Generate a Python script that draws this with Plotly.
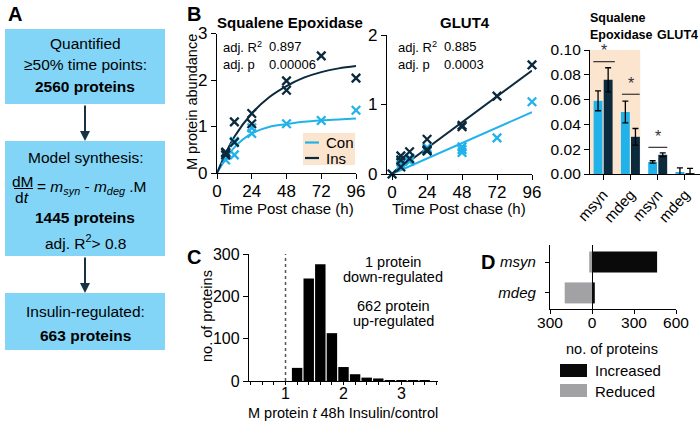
import plotly.graph_objects as go

W, H = 700, 422
FONT = "Liberation Sans, Arial, Helvetica, sans-serif"
LB = "#22B2EA"      # Con
DK = "#0C2A3E"      # Ins
BOXC = "#82D5F7"
BEIGE = "#FBE5CF"
GRAY = "#A2A2A5"


def px(x):
    return x / W


def py(y):
    return 1 - y / H


# ---------------- Panel B: Squalene Epoxidase ----------------
se_con_t = [6, 6, 12, 12, 12, 24, 24, 48, 72, 96]
se_con_v = [0.28, 0.38, 0.68, 0.65, 0.39, 0.97, 0.85, 1.06, 1.13, 1.35]
se_ins_t = [6, 6, 6, 12, 12, 24, 24, 48, 48, 72, 96]
se_ins_v = [0.43, 0.39, 0.45, 1.10, 0.66, 1.28, 1.06, 1.98, 1.78, 2.52, 2.04]
se_fit_t = [0, 6, 12, 24, 36, 48, 60, 72, 84, 96]
se_fit_con = [0, 0.30, 0.55, 0.85, 0.99, 1.05, 1.10, 1.13, 1.15, 1.17]
se_fit_ins = [0, 0.42, 0.78, 1.28, 1.63, 1.87, 2.05, 2.17, 2.25, 2.30]

# ---------------- Panel B: GLUT4 ----------------
g_con_t = [0, 6, 6, 6, 12, 12, 12, 24, 24, 24, 48, 48, 48, 72, 96]
g_con_v = [0, 0.20, 0.13, 0.17, 0.23, 0.20, 0.18, 0.38, 0.35, 0.33, 0.39, 0.35, 0.31, 0.52, 1.04]
g_ins_t = [0, 6, 6, 6, 12, 12, 24, 24, 24, 48, 48, 72, 96]
g_ins_v = [0, 0.26, 0.20, 0.10, 0.32, 0.22, 0.50, 0.35, 0.33, 0.70, 0.68, 1.12, 1.57]
g_fit_t = [0, 96]
g_fit_con = [0, 0.89]
g_fit_ins = [0, 1.49]

time_ticks = [0, 24, 48, 72, 96]

# ---------------- Panel B: rate constants ----------------
rate_labels = ["msyn", "mdeg", "msyn", "mdeg"]
rate_con = [0.059, 0.050, 0.0097, 0.0015]
rate_con_err = [0.008, 0.0088, 0.001, 0.0035]
rate_ins = [0.076, 0.030, 0.0155, 0.0006]
rate_ins_err = [0.0097, 0.0067, 0.0015, 0.004]
rate_ticks = [0, 0.02, 0.04, 0.06, 0.08, 0.10]

# ---------------- Panel C: histogram ----------------
hist_centers = [1.2, 1.4, 1.6, 1.8, 2.0, 2.2, 2.4, 2.6, 2.8, 3.0, 3.2, 3.4]
hist_counts = [31, 242, 276, 113, 33, 16, 8, 6, 1, 1, 1, 2]
hist_minor_ticks = [0.4, 0.6, 0.8, 1.0, 1.2, 1.4, 1.6, 1.8, 2.0, 2.2, 2.4, 2.6,
                    2.8, 3.0, 3.2, 3.4, 3.6]
hist_label_ticks = [1, 2, 3]

# ---------------- Panel D ----------------
d_cats = ["<i>mdeg</i>", "<i>msyn</i>"]
d_increased = [20, 465]
d_reduced = [-195, -20]
d_ticks = [-300, 0, 300, 600]
d_ticktext = ["300", "0", "300", "600"]

fig = go.Figure()

mk = dict(symbol="x-thin", size=8.5)

# Squalene
fig.add_trace(go.Scatter(x=se_fit_t, y=se_fit_con, mode="lines",
                         line=dict(color=LB, width=2, shape="spline"),
                         xaxis="x", yaxis="y", showlegend=False))
fig.add_trace(go.Scatter(x=se_fit_t, y=se_fit_ins, mode="lines",
                         line=dict(color=DK, width=2, shape="spline"),
                         xaxis="x", yaxis="y", showlegend=False))
fig.add_trace(go.Scatter(x=se_con_t, y=se_con_v, mode="markers",
                         marker=dict(**mk, line=dict(color=LB, width=2.3)),
                         xaxis="x", yaxis="y", showlegend=False, cliponaxis=False))
fig.add_trace(go.Scatter(x=se_ins_t, y=se_ins_v, mode="markers",
                         marker=dict(**mk, line=dict(color=DK, width=2.3)),
                         xaxis="x", yaxis="y", showlegend=False, cliponaxis=False))

# GLUT4
fig.add_trace(go.Scatter(x=g_fit_t, y=g_fit_con, mode="lines",
                         line=dict(color=LB, width=2),
                         xaxis="x2", yaxis="y2", showlegend=False))
fig.add_trace(go.Scatter(x=g_fit_t, y=g_fit_ins, mode="lines",
                         line=dict(color=DK, width=2),
                         xaxis="x2", yaxis="y2", showlegend=False))
fig.add_trace(go.Scatter(x=g_con_t, y=g_con_v, mode="markers",
                         marker=dict(**mk, line=dict(color=LB, width=2.3)),
                         xaxis="x2", yaxis="y2", showlegend=False, cliponaxis=False))
fig.add_trace(go.Scatter(x=g_ins_t, y=g_ins_v, mode="markers",
                         marker=dict(**mk, line=dict(color=DK, width=2.3)),
                         xaxis="x2", yaxis="y2", showlegend=False, cliponaxis=False))

# Rates bar chart
xpos = list(range(len(rate_labels)))
fig.add_trace(go.Bar(x=xpos, y=rate_con, marker=dict(color=LB, line=dict(width=0)),
                     error_y=dict(type="data", array=rate_con_err, color="black",
                                  thickness=1.3, width=3),
                     xaxis="x3", yaxis="y3", showlegend=False))
fig.add_trace(go.Bar(x=xpos, y=rate_ins, marker=dict(color=DK, line=dict(width=0)),
                     error_y=dict(type="data", array=rate_ins_err, color="black",
                                  thickness=1.3, width=3),
                     xaxis="x3", yaxis="y3", showlegend=False))

# Histogram C
fig.add_trace(go.Bar(x=hist_centers, y=hist_counts, width=0.18,
                     marker=dict(color="black", line=dict(width=0)),
                     xaxis="x4", yaxis="y4", showlegend=False))

# Panel D
fig.add_trace(go.Bar(y=[0, 1], x=d_reduced, orientation="h", width=0.68,
                     offsetgroup="d", marker=dict(color=GRAY, line=dict(width=0)),
                     xaxis="x5", yaxis="y5", showlegend=False))
fig.add_trace(go.Bar(y=[0, 1], x=d_increased, orientation="h", width=0.68,
                     offsetgroup="d", marker=dict(color="#0A0A0A", line=dict(width=0)),
                     xaxis="x5", yaxis="y5", showlegend=False))


def axis(domain, rng, **kw):
    d = dict(domain=domain, range=rng, showline=True, linecolor="black",
             linewidth=1.3, ticks="outside", ticklen=5, tickwidth=1.3,
             tickcolor="black", showgrid=False, zeroline=False, automargin=False,
             tickfont=dict(size=17, color="black"), fixedrange=True)
    d.update(kw)
    return d


layout_axes = dict(
    xaxis=axis([px(217), px(356)], [0, 96], tickvals=time_ticks, anchor="y",
               ticklabelstandoff=-3),
    yaxis=axis([py(173), py(33.5)], [0, 3], tickvals=[0, 1, 2, 3], anchor="x"),
    xaxis2=axis([px(387), px(532)], [-3.5, 96], tickvals=time_ticks, anchor="y2",
                ticklabelstandoff=-3),
    yaxis2=axis([py(174), py(35)], [0, 2], tickvals=[0, 1, 2], anchor="x2"),
    xaxis3=axis([px(590), 1.0], [-0.48, 3.55], tickvals=xpos, ticktext=rate_labels,
                tickangle=-48, tickfont=dict(size=15, color="black"), anchor="y3"),
    yaxis3=axis([py(174), py(50)], [0, 0.1], tickvals=rate_ticks, tickformat=".2f",
                tickfont=dict(size=15.5, color="black"), anchor="x3"),
    xaxis4=axis([px(249), px(438)], [0.37, 3.63], tickvals=hist_label_ticks,
                ticklen=3, ticklabelstandoff=-5,
                minor=dict(tickvals=hist_minor_ticks, ticks="outside", ticklen=3,
                           tickwidth=1.3, tickcolor="black", showgrid=False),
                tickfont=dict(size=16, color="black"), anchor="y4"),
    yaxis4=axis([py(381), py(254)], [0, 300], tickvals=[0, 100, 200, 300],
                tickfont=dict(size=16, color="black"), anchor="x4"),
    xaxis5=axis([px(550), px(676)], [-300, 600], tickvals=d_ticks, ticktext=d_ticktext,
                zeroline=True, zerolinecolor="black", zerolinewidth=1.3,
                ticklen=4, ticklabelstandoff=-5,
                tickfont=dict(size=15.5, color="black"), anchor="y5"),
    yaxis5=axis([py(309), py(245)], [-0.52, 1.55], tickvals=[0, 1], ticktext=d_cats,
                ticklen=4, ticklabelstandoff=6,
                tickfont=dict(size=15, color="black"), anchor="x5"),
)

shapes = []
annotations = []


def txt(x, y, s, size=15, bold=False, xanchor="center", color="black", **kw):
    if bold:
        s = "<b>" + s + "</b>"
    a = dict(x=px(x), y=py(y), xref="paper", yref="paper", text=s, showarrow=False,
             xanchor=xanchor, yanchor="middle", font=dict(size=size, color=color, family=FONT))
    a.update(kw)
    annotations.append(a)


def rect(x0, y0, x1, y1, color, layer="below"):
    shapes.append(dict(type="rect", xref="paper", yref="paper", x0=px(x0), x1=px(x1),
                       y0=py(y1), y1=py(y0), fillcolor=color, line=dict(width=0), layer=layer))


def hline(x0, x1, y, color, width=2, dash="solid"):
    shapes.append(dict(type="line", xref="paper", yref="paper", x0=px(x0), x1=px(x1),
                       y0=py(y), y1=py(y), line=dict(color=color, width=width, dash=dash)))


# ---------- Panel A ----------
rect(5, 29, 165, 104, BOXC)
rect(5, 141, 165, 256, BOXC)
rect(5, 293, 165, 350, BOXC)
for ytop, ybot in [(104, 141), (256, 293)]:
    annotations.append(dict(x=px(85), y=py(ybot), xref="paper", yref="paper", text="",
                            showarrow=True, arrowhead=2, arrowsize=1, arrowwidth=2,
                            arrowcolor="#163247", ax=0, ay=-(ybot - ytop), axref="pixel",
                            ayref="pixel"))
txt(85, 44, "Quantified", 15.5)
txt(85, 64, "≥50% time points:", 15.5)
txt(85, 87, "2560 proteins", 15.5, bold=True)
txt(85, 157, "Model synthesis:", 15.5)
txt(23, 181, "dM", 15.5)
hline(14, 33, 188.5, "black", 1)
txt(22, 197, "d<i>t</i>", 15.5)
txt(35, 188, "= <i>m<sub>syn</sub></i> - <i>m<sub>deg</sub></i> .M", 15.5, xanchor="left")
txt(85, 217, "1445 proteins", 15.5, bold=True)
txt(85, 242, "adj. R<sup>2</sup>> 0.8", 15.5)
txt(85, 311, "Insulin-regulated:", 15.5)
txt(85, 335, "663 proteins", 15.5, bold=True)

# Panel letters
txt(6, 14, "A", 20, bold=True, xanchor="left")
txt(185, 14, "B", 20, bold=True, xanchor="left")
txt(185, 257, "C", 20, bold=True, xanchor="left")
txt(479, 262, "D", 20, bold=True, xanchor="left")

# ---------- Panel B texts ----------
txt(290, 23, "Squalene Epoxidase", 15, bold=True)
txt(465, 23, "GLUT4", 15, bold=True)
txt(221, 47, "adj. R<sup>2</sup>", 13, xanchor="left")
txt(267, 47, "0.897", 13, xanchor="left")
txt(221, 64, "adj. p", 13, xanchor="left")
txt(267, 64, "0.00006", 13, xanchor="left")
txt(396, 47, "adj. R<sup>2</sup>", 13, xanchor="left")
txt(442, 47, "0.885", 13, xanchor="left")
txt(396, 64, "adj. p", 13, xanchor="left")
txt(442, 64, "0.0003", 13, xanchor="left")
txt(192, 102, "M protein abundance", 14.5, textangle=-90)
txt(287, 208, "Time Post chase (h)", 15)
txt(459, 208, "Time Post chase (h)", 15)

# legend of B
rect(303, 133, 355, 165, BEIGE)
hline(305, 319, 142.5, LB, 2.2)
hline(305, 319, 158, DK, 2.2)
txt(324, 142.5, "Con", 15, xanchor="left")
txt(324, 158, "Ins", 15, xanchor="left")

# rates chart background + titles
shapes.append(dict(type="rect", xref="x3", yref="y3", x0=-0.48, x1=1.36, y0=0, y1=0.1,
                   fillcolor=BEIGE, line=dict(width=0), layer="below"))
txt(588, 18, "Squalene", 12.5, bold=True, xanchor="left")
txt(588, 35, "Epoxidase", 12.5, bold=True, xanchor="left")
txt(655, 35, "GLUT4", 12.5, bold=True, xanchor="left")
for x0, x1, yl in [(-0.36, 0.43, 0.0906), (0.69, 1.34, 0.0643), (1.66, 2.35, 0.0215)]:
    shapes.append(dict(type="line", xref="x3", yref="y3", x0=x0, x1=x1, y0=yl, y1=yl,
                       line=dict(color="#333333", width=1.2)))
    annotations.append(dict(x=(x0 + x1) / 2, y=yl + 0.0005, xref="x3", yref="y3", text="*",
                            showarrow=False, yanchor="bottom",
                            font=dict(size=16, color="#333333", family=FONT)))

# ---------- Panel C texts ----------
shapes.append(dict(type="line", xref="x4", yref="y4", x0=1, x1=1, y0=0, y1=300,
                   line=dict(color="#555555", width=1.5, dash="dot")))
txt(393, 262, "1 protein", 14.5)
txt(393, 277, "down-regulated", 14.5)
txt(393, 306, "662 protein", 14.5)
txt(393, 321, "up-regulated", 14.5)
txt(207, 316, "no. of proteins", 14.5, textangle=-90)
txt(343, 413, "M protein <i>t</i> 48h Insulin/control", 14.5)

# ---------- Panel D texts / legend ----------
txt(612, 349, "no. of proteins", 14.5)
rect(560, 364, 587, 377, "#0A0A0A")
rect(560, 384, 587, 397, GRAY)
txt(593, 370, "Increased", 15, xanchor="left")
txt(593, 391, "Reduced", 15, xanchor="left")

fig.update_layout(
    template="none",
    width=W, height=H, margin=dict(l=0, r=0, t=0, b=0, autoexpand=False),
    paper_bgcolor="white", plot_bgcolor="rgba(0,0,0,0)",
    font=dict(family=FONT, size=15, color="black"),
    barmode="group", bargap=0.26, bargroupgap=0.12,
    shapes=shapes, annotations=annotations, showlegend=False,
    **layout_axes,
)

fig.write_html("out.html", config={"displayModeBar": False},
               post_script="document.body.style.margin='0';document.body.style.overflow='hidden';")
